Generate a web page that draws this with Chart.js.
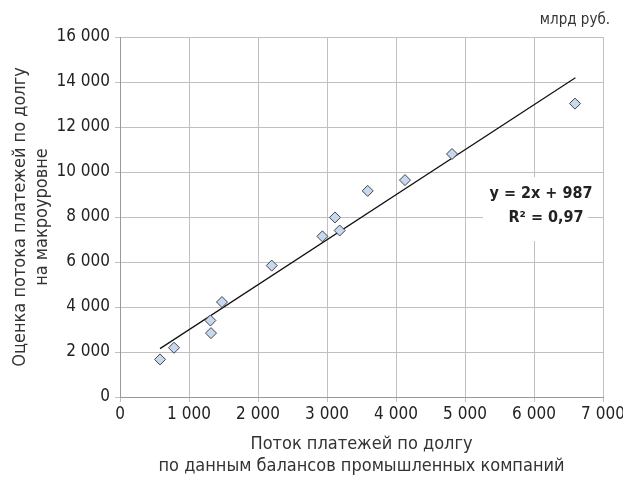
<!DOCTYPE html>
<html>
<head>
<meta charset="utf-8">
<script src="https://cdn.jsdelivr.net/npm/chart.js@4"></script>
<style>
  html, body { margin: 0; padding: 0; background: #fff; }
  #wrap { width: 623px; height: 477px; position: relative; }
</style>
</head>
<body>
<div id="wrap"><canvas id="myChart"></canvas></div>
<script>
// points
const flowX = [580, 783, 1310, 1319, 1478, 2199, 2933, 3116, 3184, 3590, 4130, 4812, 6594];
const macroY = [1670, 2190, 3400, 2840, 4220, 5840, 7140, 7980, 7400, 9160, 9640, 10800, 13040];
// trend line end points
const trendX = [580, 6600];
const trendY = [2150, 14190];

const fontName = "'DejaVu Sans Condensed', 'Liberation Sans Narrow', sans-serif";

const pts = flowX.map((x, i) => ({x: x, y: macroY[i]}));
const trend = trendX.map((x, i) => ({x: x, y: trendY[i]}));

function fmt(v) {
  return String(v).replace(/\B(?=(\d{3})+(?!\d))/g, " ");
}

const extras = {
  id: "extras",
  afterDraw(chart) {
    const ctx = chart.ctx;
    ctx.save();
    // white box for the equation
    ctx.fillStyle = "#fff";
    ctx.fillRect(483, 177, 105, 64);
    ctx.fillStyle = "#222";
    ctx.font = "bold 16px " + fontName;
    ctx.textAlign = "center";
    ctx.textBaseline = "middle";
    ctx.fillText("y = 2x + 987", 541, 194);
    ctx.fillText("R² = 0,97", 546, 218);
    // unit label
    ctx.font = "15px " + fontName;
    ctx.textAlign = "right";
    ctx.fillStyle = "#333";
    ctx.fillText("млрд руб.", 610, 20);
    ctx.restore();
  }
};

new Chart("myChart", {
  type: "scatter",
  data: {
    datasets: [{
      data: pts,
      pointStyle: "rectRot",
      pointRadius: 5.5,
      pointBackgroundColor: "#c6d9f1",
      pointBorderColor: "#444",
      pointBorderWidth: 1,
      order: 1
    }, {
      type: "line",
      data: trend,
      borderColor: "#111",
      borderWidth: 1.2,
      pointRadius: 0,
      fill: false,
      order: 2
    }]
  },
  options: {
    responsive: true,
    maintainAspectRatio: false,
    animation: false,
    layout: { padding: { left: 0, right: 20, top: 37, bottom: 0 } },
    plugins: {
      legend: { display: false },
      tooltip: { enabled: false }
    },
    scales: {
      x: {
        type: "linear",
        min: 0,
        max: 7000,
        afterFit(s) { s.height = 80; s.paddingRight = 15; s.paddingLeft = 0; },
        ticks: {
          stepSize: 1000,
          color: "#222",
          font: { family: fontName, size: 17 },
          padding: 2,
          maxRotation: 0,
          callback: v => fmt(v)
        },
        grid: { color: "#c0c0c0", tickLength: 5 },
        border: { color: "#999" },
        title: {
          display: true,
          text: ["Поток платежей по долгу", "по данным балансов промышленных компаний"],
          color: "#333",
          font: { family: fontName, size: 18 },
          padding: { top: 2, bottom: 0 }
        }
      },
      y: {
        min: 0,
        max: 16000,
        afterFit(s) { s.width = 120; },
        ticks: {
          stepSize: 2000,
          color: "#222",
          font: { family: fontName, size: 17 },
          padding: 5,
          callback: v => fmt(v)
        },
        grid: { color: "#c0c0c0", tickLength: 5 },
        border: { color: "#999" },
        title: {
          display: true,
          text: ["Оценка потока платежей по долгу", "на макроуровне"],
          color: "#333",
          font: { family: fontName, size: 18 },
          padding: { top: 10, bottom: 0 }
        }
      }
    }
  },
  plugins: [extras]
});
</script>
</body>
</html>
